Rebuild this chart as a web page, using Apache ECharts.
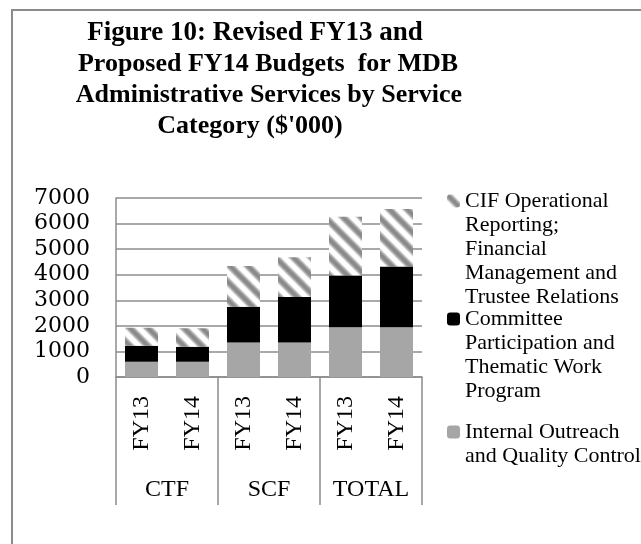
<!DOCTYPE html>
<html>
<head>
<meta charset="utf-8">
<script src="https://cdn.jsdelivr.net/npm/echarts@6/dist/echarts.min.js"></script>
<style>
  body { margin: 0; background: #fff; }
  #chart { position: absolute; left: 0; top: 0; width: 641px; height: 544px; }
  /* marco exterior del gráfico (solo borde superior e izquierdo visibles) */
  #marco { position: absolute; left: 11px; top: 9px; width: 700px; height: 600px;
           border-left: 2px solid #8c8c8c; border-top: 2px solid #8c8c8c; pointer-events: none; }
</style>
</head>
<body>
<div id="chart"></div>
<div id="marco"></div>
<script>
// Datos del gráfico ($'000)
const fyLabels = ['FY13', 'FY14', 'FY13', 'FY14', 'FY13', 'FY14'];
const groupLabels = ['CTF', 'SCF', 'TOTAL'];
const internalOutreach = [600, 600, 1350, 1350, 1950, 1950];
const committeeWork = [620, 585, 1400, 1780, 2020, 2370];
const cifReporting = [710, 720, 1590, 1550, 2300, 2250];
const yTicks = { min: 0, max: 7000, interval: 1000 };

const nameInternal = 'Internal Outreach and Quality Control';
const nameCommittee = 'Committee Participation and Thematic Work Program';
const nameCif = 'CIF Operational Reporting; Financial Management and Trustee Relations';

// Título: una línea por componente para centrar cada una como en el original
const titleLines = [
    { text: 'Figure 10: Revised FY13 and', center: 255, size: 27 },
    { text: 'Proposed FY14 Budgets  for MDB', center: 268, size: 26 },
    { text: 'Administrative Services by Service', center: 269, size: 26 },
    { text: 'Category ($\'000)', center: 250, size: 26 }
];

// Texto de la leyenda con saltos de línea como en el original
const legendLines = {};
legendLines[nameCif] = ['CIF Operational', 'Reporting;', 'Financial', 'Management and', 'Trustee Relations'];
legendLines[nameCommittee] = ['Committee', 'Participation and', 'Thematic Work', 'Program'];
legendLines[nameInternal] = ['Internal Outreach', 'and Quality Control'];

// Patrón de rayas diagonales para la serie CIF
function makeHatch() {
    const size = 18;
    const c = document.createElement('canvas');
    c.width = size;
    c.height = size;
    const ctx = c.getContext('2d');
    ctx.fillStyle = '#ffffff';
    ctx.fillRect(0, 0, size, size);
    const layers = [['#d6d6d6', 8], ['#ababab', 6], ['#8a8a8a', 3.5]];
    layers.forEach(function (l) {
        ctx.strokeStyle = l[0];
        ctx.lineWidth = l[1];
        [-size, 0, size].forEach(function (o) {
            ctx.beginPath();
            ctx.moveTo(o - 4, -4);
            ctx.lineTo(o + size + 4, size + 4);
            ctx.stroke();
        });
    });
    return { image: c, repeat: 'repeat' };
}

const LINE_H = 24;
const gray = '#8c8c8c';

function legendFor(name, top) {
    return {
        data: [name],
        left: 447,
        top: top,
        padding: 0,
        itemWidth: 13,
        itemHeight: 13,
        selectedMode: false,
        formatter: function (v) {
            const lines = legendLines[v];
            // líneas vacías delante para que la primera quede junto al icono
            const blanks = new Array(lines.length - 1).fill('');
            return blanks.concat(lines).join('\n');
        },
        textStyle: {
            fontFamily: 'Liberation Serif',
            fontSize: 22,
            lineHeight: LINE_H,
            color: '#000'
        }
    };
}

const myChart = echarts.init(document.getElementById('chart'));

const option = {
    backgroundColor: '#ffffff',
    animation: false,
    title: titleLines.map(function (t, i) {
        return {
            text: t.text,
            left: t.center,
            top: 18 + i * 31,
            padding: 0,
            textAlign: 'center',
            textStyle: {
                fontFamily: 'Liberation Serif',
                fontWeight: 'bold',
                fontSize: t.size,
                lineHeight: 31,
                color: '#000'
            }
        };
    }),
    legend: [
        legendFor(nameCif, 93),
        legendFor(nameCommittee, 235),
        legendFor(nameInternal, 396)
    ],
    grid: { left: 116, right: 219, top: 198, bottom: 167, containLabel: false },
    xAxis: [
        {
            type: 'category',
            data: fyLabels,
            position: 'bottom',
            axisLine: { show: true, lineStyle: { color: gray, width: 1.5 } },
            axisTick: { show: false },
            axisLabel: {
                interval: 0,
                rotate: 90,
                margin: 19,
                fontFamily: 'Liberation Serif',
                fontSize: 24,
                color: '#000'
            }
        },
        {
            type: 'category',
            data: groupLabels,
            position: 'bottom',
            offset: 0,
            axisLine: { show: false },
            axisTick: { show: true, length: 128, interval: 0, lineStyle: { color: gray, width: 1.5 } },
            axisLabel: {
                interval: 0,
                margin: 101,
                fontFamily: 'Liberation Serif',
                fontSize: 24,
                color: '#000'
            }
        }
    ],
    yAxis: {
        type: 'value',
        min: yTicks.min,
        max: yTicks.max,
        interval: yTicks.interval,
        axisLine: { show: true, lineStyle: { color: gray, width: 1.5 } },
        axisTick: { show: false },
        axisLabel: {
            margin: 26,
            fontFamily: 'DejaVu Serif',
            fontSize: 22,
            color: '#000',
            formatter: function (v) { return String(v); }
        },
        splitLine: { lineStyle: { color: gray, width: 1.5 } }
    },
    series: [
        {
            name: nameInternal,
            type: 'bar',
            stack: 'total',
            barWidth: 33,
            data: internalOutreach,
            itemStyle: { color: '#a6a6a6' }
        },
        {
            name: nameCommittee,
            type: 'bar',
            stack: 'total',
            barWidth: 33,
            data: committeeWork,
            itemStyle: { color: '#000000' }
        },
        {
            name: nameCif,
            type: 'bar',
            stack: 'total',
            barWidth: 33,
            data: cifReporting,
            itemStyle: { color: makeHatch() }
        }
    ]
};

myChart.setOption(option);
</script>
</body>
</html>
